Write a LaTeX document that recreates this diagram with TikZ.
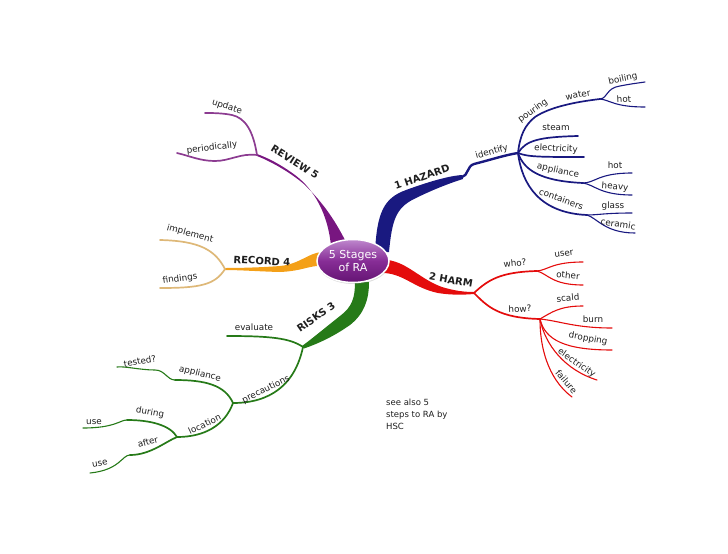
\documentclass[tikz,border=0pt]{standalone}
\usepackage{fontspec}
\setmainfont{DejaVu Sans}
\usetikzlibrary{shapes.geometric,shadows}
\definecolor{hzc}{RGB}{25,25,128}
\definecolor{hmc}{RGB}{228,12,12}
\definecolor{rkc}{RGB}{38,122,24}
\definecolor{rcc}{RGB}{244,160,24}
\definecolor{rcl}{RGB}{222,184,120}
\definecolor{rvc}{RGB}{120,22,128}
\definecolor{rvl}{RGB}{140,60,145}
\definecolor{ctop}{RGB}{190,135,205}
\definecolor{cmid}{RGB}{135,45,150}
\definecolor{cbot}{RGB}{100,20,115}
\definecolor{txt}{RGB}{30,30,30}
\begin{document}
\begin{tikzpicture}[x=1pt,y=-1pt,
  lbl/.style={font=\fontsize{8.8}{10}\selectfont, inner sep=0pt, text=txt,
    text height=6.4pt, text depth=1.8pt},
  onl/.style={lbl, sloped, above=1.5pt},
  mainlbl/.style={font=\bfseries\fontsize{10}{12}\selectfont, inner sep=0pt, text=txt},
  br/.style={line cap=round, line join=round},
  wa/.style={br, line width=2.4pt},
  wb/.style={br, line width=1.7pt},
  wc/.style={br, line width=1.1pt}]
\useasboundingbox (0,0) rectangle (728,554);

% ---------- coordinates ----------
\coordinate (hzA) at (462,177);
\coordinate (hzI) at (518,153);
\coordinate (hzP) at (535,117);
\coordinate (hzW) at (600,99);
\coordinate (hzWb) at (645,82);
\coordinate (hzWh) at (645,107);
\coordinate (hzS) at (578,136);
\coordinate (hzE) at (584,157);
\coordinate (hzAp) at (583,183);
\coordinate (hzAh) at (632,173);
\coordinate (hzAv) at (632,195);
\coordinate (hzC) at (587,215);
\coordinate (hzCg) at (632,213);
\coordinate (hzCc) at (635,233);

\coordinate (hmA) at (474,293);
\coordinate (hmW) at (537,271);
\coordinate (hmWu) at (583,262);
\coordinate (hmWo) at (583,285);
\coordinate (hmH) at (540,319);
\coordinate (hmHs) at (583,306);
\coordinate (hmHb) at (612,328);
\coordinate (hmHd) at (612,350);
\coordinate (hmHe) at (597,380);
\coordinate (hmHf) at (572,397);

\coordinate (rkA) at (303,347);
\coordinate (rkE) at (227,336);
\coordinate (rkP) at (233,403);
\coordinate (rkPa) at (175,380);
\coordinate (rkPt) at (117,367);
\coordinate (rkL) at (177,437);
\coordinate (rkLd) at (127,420);
\coordinate (rkLdu) at (83,428);
\coordinate (rkLa) at (130,455);
\coordinate (rkLau) at (90,473);

\coordinate (rcA) at (225,269);
\coordinate (rcI) at (160,240);
\coordinate (rcF) at (160,288);

\coordinate (rvA) at (257,155);
\coordinate (rvU) at (205,113);
\coordinate (rvP) at (177,153);

% ---------- 1 HAZARD ----------
\fill[hzc] (375,252) .. controls (377,212) and (384,198) .. (406,190)
  .. controls (428,182) and (448,176) .. (462,175) -- (463,179)
  .. controls (450,183) and (432,190) .. (414,199)
  .. controls (396,208) and (392,220) .. (389,252) -- cycle;
\draw[hzc, wa] (hzA) .. controls (468,176) and (467,166) .. (474,164)
  .. controls (490,160) and (505,155) .. (hzI) node[onl, pos=0.42] (tIdent) {identify};
\draw[hzc, wb] (hzI) .. controls (520,135) and (525,125) .. (hzP)
  .. controls (550,107) and (575,102) .. (hzW) node[onl, pos=0.72] (tWater) {water};
\draw[hzc, wc] (hzW) .. controls (608,98) and (606,88) .. (620,86) .. controls (630,84) and (638,83) .. (hzWb);
\draw[hzc, wc] (hzW) .. controls (610,100) and (614,107) .. (hzWh);
\draw[hzc, wb] (hzI) .. controls (526,140) and (540,137) .. (hzS);
\draw[hzc, wb] (hzI) .. controls (528,157) and (540,157) .. (hzE);
\draw[hzc, wb] (hzI) .. controls (524,170) and (540,181) .. (hzAp);
\draw[hzc, wc] (hzAp) .. controls (595,183) and (598,173) .. (hzAh);
\draw[hzc, wc] (hzAp) .. controls (595,185) and (600,195) .. (hzAv);
\draw[hzc, wb] (hzI) .. controls (522,185) and (540,213) .. (hzC);
\draw[hzc, wc] (hzC) .. controls (598,215) and (605,213) .. (hzCg);
\draw[hzc, wc] (hzC) .. controls (597,218) and (605,233) .. (hzCc);

\node[mainlbl, rotate=19] (tHaz) at (422,177) {1 HAZARD};
\node[lbl, rotate=36] (tPour) at (533,111) {pouring};
\node[lbl, rotate=12] (tBoil) at (623,79) {boiling};
\node[lbl, rotate=3] (tHot1) at (624,100) {hot};
\node[lbl] (tSteam) at (556,128) {steam};
\node[lbl, rotate=-3] (tElec1) at (556,149) {electricity};
\node[lbl, rotate=-12] (tAppl1) at (558,171) {appliance};
\node[lbl] (tHot2) at (615,166) {hot};
\node[lbl, rotate=-5] (tHeavy) at (615,187) {heavy};
\node[lbl, rotate=-20] (tCont) at (561,200) {containers};
\node[lbl] (tGlass) at (613,206) {glass};
\node[lbl, rotate=-8] (tCer) at (618,225) {ceramic};

% ---------- 2 HARM ----------
\fill[hmc] (388,260) .. controls (408,263) and (420,279) .. (442,287)
  .. controls (455,291) and (465,292) .. (474,292) -- (474,294)
  .. controls (462,295) and (450,295) .. (438,293)
  .. controls (414,288) and (404,274) .. (384,273) -- cycle;
\draw[hmc, wb] (hmA) .. controls (488,280) and (500,272) .. (hmW);
\draw[hmc, wc] (hmW) .. controls (548,270) and (552,262) .. (hmWu);
\draw[hmc, wc] (hmW) .. controls (548,274) and (552,285) .. (hmWo);
\draw[hmc, wb] (hmA) .. controls (487,306) and (498,318) .. (hmH);
\draw[hmc, wc] (hmH) .. controls (552,312) and (560,306) .. (hmHs);
\draw[hmc, wc] (hmH) .. controls (560,321) and (575,328) .. (hmHb);
\draw[hmc, wc] (hmH) .. controls (545,340) and (565,350) .. (hmHd);
\draw[hmc, wc] (hmH) .. controls (545,345) and (565,370) .. (hmHe) node[onl, pos=0.72] (tElec2) {electricity};
\draw[hmc, wc] (hmH) .. controls (540,355) and (552,382) .. (hmHf) node[onl, pos=0.8] (tFail) {failure};

\node[mainlbl, rotate=-10] (tHarm) at (451,280) {2 HARM};
\node[lbl, rotate=5] (tWho) at (515,264) {who?};
\node[lbl, rotate=8] (tUser) at (564,254) {user};
\node[lbl, rotate=-5] (tOther) at (568,276) {other};
\node[lbl, rotate=3] (tHow) at (520,310) {how?};
\node[lbl, rotate=5] (tScald) at (568,299) {scald};
\node[lbl] (tBurn) at (593,320) {burn};
\node[lbl, rotate=-10] (tDrop) at (588,339) {dropping};

% ---------- RISKS 3 ----------
\fill[rkc] (355,282) .. controls (355,298) and (352,307) .. (340,316)
  .. controls (326,327) and (313,338) .. (302,346) -- (304,348.5)
  .. controls (317,344) and (333,337) .. (350,325)
  .. controls (364,314) and (369,300) .. (369,282) -- cycle;
\draw[rkc, wb] (rkA) .. controls (290,338) and (270,336) .. (rkE);
\draw[rkc, wb] (rkA) .. controls (295,385) and (270,403) .. (rkP) node[onl, pos=0.63] (tPrec) {precautions};
\draw[rkc, wb] (rkP) .. controls (225,385) and (205,380) .. (rkPa);
\draw[rkc, wc] (rkPa) .. controls (167,380) and (165,370) .. (155,370) .. controls (140,370) and (125,366) .. (rkPt);
\draw[rkc, wb] (rkP) .. controls (225,425) and (205,437) .. (rkL) node[onl, pos=0.58] (tLoc) {location};
\draw[rkc, wb] (rkL) .. controls (170,425) and (150,420) .. (rkLd);
\draw[rkc, wc] (rkLd) .. controls (120,420) and (115,428) .. (rkLdu);
\draw[rkc, wb] (rkL) .. controls (165,442) and (150,455) .. (rkLa);
\draw[rkc, wc] (rkLa) .. controls (122,455) and (120,470) .. (rkLau);

\node[mainlbl, rotate=35] (tRisk) at (316,317) {RISKS 3};
\node[lbl] (tEval) at (254,328) {evaluate};
\node[lbl, rotate=-14] (tAppl2) at (200,374) {appliance};
\node[lbl, rotate=10] (tTest) at (140,362) {tested?};
\node[lbl, rotate=-10] (tDur) at (150,413) {during};
\node[lbl] (tUse1) at (94,422) {use};
\node[lbl, rotate=15] (tAfter) at (148,443) {after};
\node[lbl, rotate=10] (tUse2) at (100,464) {use};

% ---------- RECORD 4 ----------
\fill[rcc] (322,252) .. controls (308,253) and (300,264) .. (280,266)
  .. controls (260,267.5) and (240,268) .. (225,268) -- (225,270)
  .. controls (240,270) and (260,271.5) .. (280,272)
  .. controls (303,271) and (310,265) .. (322,266) -- cycle;
\draw[rcl, wb] (rcA) .. controls (215,250) and (200,241) .. (rcI);
\draw[rcl, wb] (rcA) .. controls (215,285) and (200,288) .. (rcF);

\node[mainlbl, rotate=-3] (tRec) at (262,261) {RECORD 4};
\node[lbl, rotate=-15] (tImpl) at (190,234) {implement};
\node[lbl, rotate=8] (tFind) at (180,279) {findings};

% ---------- REVIEW 5 ----------
\fill[rvc] (331,246) .. controls (328,215) and (315,190) .. (295,175)
  .. controls (280,164) and (268,158) .. (257,154) -- (257,156)
  .. controls (270,161) and (290,172) .. (305,185)
  .. controls (325,205) and (336,222) .. (347,244) -- cycle;
\draw[rvl, wb] (rvA) .. controls (253,130) and (245,118) .. (232,115) .. controls (222,113) and (212,113) .. (rvU);
\draw[rvl, wb] (rvA) .. controls (240,153) and (230,161) .. (215,161) .. controls (200,161) and (190,156) .. (rvP);

\node[mainlbl, rotate=-32] (tRev) at (295,162) {REVIEW 5};
\node[lbl, rotate=-18] (tUpd) at (227,107) {update};
\node[lbl, rotate=7] (tPer) at (212,148) {periodically};

% ---------- centre ----------
\node[ellipse, minimum width=72, minimum height=43, draw=white, line width=1.5pt,
  top color=ctop, bottom color=cbot, middle color=cmid,
  drop shadow={opacity=0.3, shadow xshift=0.5pt, shadow yshift=-1.5pt},
  text=white, align=center, inner sep=0pt,
  font=\fontsize{11}{13}\selectfont] (c) at (353,261) {5 Stages\\of RA};

% ---------- note ----------
\node[anchor=north west, align=left, inner sep=0pt, text=txt,
  font=\fontsize{8.5}{12}\selectfont] (note) at (386,399) {see also 5\\steps to RA by\\HSC};
\end{tikzpicture}
\end{document}
